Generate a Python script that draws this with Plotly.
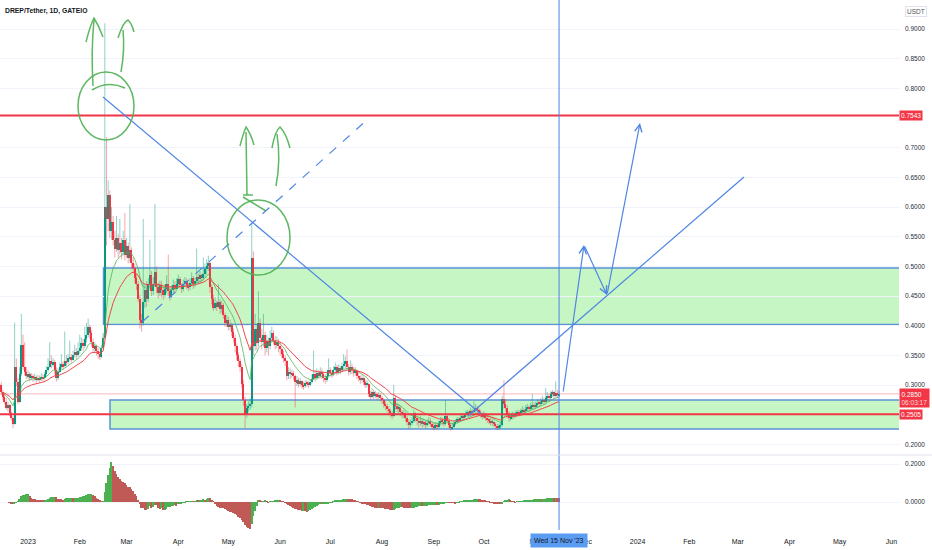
import numpy as np
import pandas as pd
import plotly.graph_objects as go

# ---------------- data (DREP/USDT daily) ----------------
start_date = "2022-12-16"
first_open = 0.300

closes = [
    # Dec 16-31 2022
    0.288,0.280,0.272,0.262,0.266,0.252,0.245,0.235,0.330,0.305,0.272,0.318,0.368,0.330,0.322,0.315,
    # Jan 2023
    0.318,0.312,0.315,0.311,0.313,0.309,0.312,0.310,0.314,0.311,0.318,0.325,0.330,0.340,0.335,0.338,0.325,0.312,0.322,0.330,0.335,0.332,0.340,0.338,0.345,0.348,0.343,0.350,0.355,0.350,0.358,
    # Feb
    0.362,0.370,0.365,0.378,0.385,0.398,0.388,0.372,0.362,0.365,0.358,0.352,0.348,0.362,0.380,0.600,0.580,0.620,0.560,0.575,0.545,0.530,0.548,0.528,0.540,0.525,0.545,0.520,
    # Mar
    0.535,0.515,0.528,0.505,0.498,0.480,0.470,0.445,0.410,0.405,0.440,0.460,0.445,0.470,0.485,0.458,0.470,0.490,0.465,0.455,0.468,0.460,0.452,0.462,0.470,0.458,0.448,0.460,0.468,0.462,0.470,
    # Apr
    0.478,0.468,0.462,0.470,0.476,0.468,0.465,0.472,0.480,0.470,0.475,0.482,0.478,0.485,0.480,0.488,0.495,0.500,0.505,0.465,0.445,0.430,0.438,0.432,0.440,0.428,0.435,0.418,0.405,0.410,
    # May
    0.398,0.402,0.390,0.380,0.365,0.350,0.340,0.330,0.302,0.275,0.250,0.262,0.265,0.268,0.515,0.365,0.395,0.370,0.405,0.380,0.372,0.385,0.362,0.375,0.365,0.380,0.388,0.375,0.368,0.372,0.365,
    # Jun
    0.360,0.352,0.345,0.340,0.315,0.322,0.318,0.320,0.315,0.305,0.308,0.302,0.306,0.300,0.298,0.304,0.302,0.300,0.305,0.310,0.318,0.312,0.320,0.316,0.322,0.318,0.312,0.308,0.315,0.325,
    # Jul
    0.320,0.318,0.325,0.330,0.322,0.328,0.325,0.332,0.336,0.340,0.330,0.322,0.330,0.326,0.320,0.324,0.316,0.312,0.308,0.312,0.305,0.300,0.302,0.285,0.280,0.288,0.282,0.285,0.280,0.283,0.278,
    # Aug
    0.274,0.268,0.265,0.260,0.256,0.252,0.248,0.278,0.265,0.260,0.262,0.255,0.250,0.252,0.245,0.238,0.232,0.236,0.240,0.252,0.245,0.240,0.236,0.240,0.235,0.238,0.232,0.236,0.240,0.235,0.230,
    # Sep
    0.228,0.232,0.230,0.236,0.240,0.238,0.235,0.248,0.240,0.232,0.227,0.230,0.234,0.238,0.242,0.240,0.245,0.248,0.246,0.250,0.254,0.252,0.256,0.254,0.258,0.262,0.258,0.255,0.250,0.247,
    # Oct
    0.250,0.245,0.242,0.240,0.236,0.238,0.234,0.231,0.228,0.230,0.232,0.276,0.268,0.262,0.250,0.244,0.246,0.250,0.248,0.252,0.254,0.252,0.256,0.258,0.256,0.260,0.262,0.260,0.264,0.266,0.263,
    # Nov 1-15
    0.267,0.270,0.268,0.272,0.275,0.272,0.278,0.282,0.278,0.284,0.288,0.282,0.287,0.283,0.285,
]

highs = [
    0.305,0.292,0.285,0.278,0.272,0.268,0.256,0.248,0.405,0.345,0.312,0.330,0.420,0.385,0.372,0.330,
    0.325,0.322,0.320,0.318,0.319,0.316,0.317,0.316,0.320,0.318,0.322,0.332,0.345,0.372,0.350,0.345,0.342,0.330,0.328,0.338,0.352,0.340,0.390,0.350,0.352,0.375,0.352,0.358,0.368,0.362,0.372,
    0.385,0.380,0.378,0.398,0.405,0.412,0.402,0.392,0.378,0.372,0.368,0.362,0.356,0.368,0.388,0.910,0.718,0.645,0.628,0.600,0.585,0.560,0.585,0.555,0.580,0.548,0.560,0.590,
    0.548,0.540,0.605,0.532,0.515,0.505,0.488,0.475,0.452,0.420,0.580,0.470,0.475,0.480,0.545,0.492,0.482,0.605,0.500,0.472,0.476,0.475,0.466,0.470,0.485,0.520,0.465,0.468,0.478,0.475,0.480,
    0.486,0.482,0.472,0.478,0.482,0.480,0.472,0.480,0.490,0.484,0.482,0.530,0.488,0.492,0.488,0.515,0.505,0.512,0.518,0.508,0.470,0.452,0.448,0.442,0.470,0.445,0.442,0.438,0.422,0.418,
    0.415,0.410,0.405,0.395,0.385,0.370,0.355,0.345,0.335,0.308,0.280,0.268,0.272,0.278,0.572,0.525,0.420,0.402,0.458,0.412,0.395,0.420,0.390,0.385,0.380,0.392,0.398,0.392,0.382,0.382,0.378,
    0.372,0.365,0.358,0.350,0.342,0.330,0.328,0.326,0.324,0.318,0.315,0.312,0.312,0.308,0.305,0.308,0.308,0.306,0.310,0.318,0.358,0.325,0.328,0.325,0.330,0.328,0.322,0.318,0.320,0.345,
    0.330,0.326,0.332,0.338,0.334,0.335,0.332,0.338,0.352,0.348,0.360,0.335,0.342,0.336,0.330,0.330,0.326,0.322,0.316,0.318,0.314,0.308,0.308,0.304,0.290,0.295,0.292,0.290,0.288,0.288,0.286,
    0.282,0.278,0.272,0.268,0.264,0.260,0.256,0.300,0.282,0.270,0.268,0.265,0.258,0.258,0.255,0.248,0.242,0.242,0.246,0.258,0.254,0.248,0.244,0.248,0.244,0.243,0.240,0.242,0.246,0.244,0.238,
    0.236,0.237,0.236,0.240,0.246,0.245,0.242,0.275,0.250,0.244,0.236,0.236,0.238,0.242,0.246,0.246,0.250,0.252,0.252,0.256,0.258,0.258,0.262,0.260,0.272,0.268,0.265,0.262,0.258,0.254,
    0.256,0.253,0.248,0.246,0.244,0.243,0.240,0.237,0.234,0.235,0.238,0.282,0.308,0.275,0.266,0.256,0.252,0.255,0.254,0.257,0.258,0.258,0.260,0.264,0.262,0.266,0.268,0.266,0.270,0.285,0.270,
    0.272,0.276,0.274,0.278,0.282,0.279,0.295,0.288,0.286,0.290,0.292,0.290,0.306,0.292,0.290,
]

lows = [
    0.283,0.275,0.268,0.258,0.255,0.248,0.240,0.227,0.233,0.298,0.268,0.270,0.315,0.325,0.316,0.310,
    0.310,0.306,0.308,0.305,0.307,0.304,0.306,0.305,0.307,0.306,0.309,0.315,0.322,0.328,0.328,0.330,0.318,0.306,0.308,0.320,0.327,0.326,0.330,0.332,0.334,0.340,0.338,0.341,0.346,0.344,0.347,
    0.352,0.358,0.358,0.362,0.372,0.380,0.378,0.365,0.355,0.356,0.350,0.344,0.342,0.345,0.360,0.378,0.535,0.560,0.548,0.545,0.535,0.515,0.525,0.515,0.520,0.512,0.518,0.510,
    0.515,0.505,0.508,0.495,0.488,0.472,0.460,0.440,0.395,0.390,0.400,0.430,0.432,0.440,0.462,0.450,0.452,0.465,0.455,0.446,0.450,0.448,0.444,0.448,0.455,0.450,0.442,0.446,0.455,0.455,0.458,
    0.465,0.462,0.455,0.458,0.465,0.462,0.458,0.460,0.466,0.462,0.465,0.470,0.470,0.472,0.472,0.476,0.480,0.486,0.492,0.455,0.436,0.425,0.428,0.425,0.430,0.420,0.422,0.412,0.398,0.398,
    0.392,0.392,0.382,0.372,0.355,0.342,0.330,0.322,0.295,0.265,0.226,0.245,0.255,0.258,0.262,0.350,0.358,0.360,0.365,0.372,0.360,0.365,0.350,0.355,0.350,0.360,0.372,0.368,0.360,0.362,0.355,
    0.350,0.345,0.338,0.332,0.308,0.310,0.310,0.312,0.308,0.262,0.298,0.296,0.298,0.294,0.292,0.295,0.297,0.295,0.298,0.302,0.308,0.306,0.308,0.310,0.312,0.310,0.305,0.302,0.305,0.312,
    0.314,0.312,0.315,0.320,0.316,0.318,0.318,0.322,0.326,0.328,0.325,0.316,0.318,0.318,0.314,0.316,0.310,0.306,0.302,0.304,0.300,0.295,0.296,0.280,0.275,0.278,0.276,0.278,0.275,0.276,0.272,
    0.268,0.262,0.258,0.254,0.250,0.246,0.242,0.246,0.258,0.254,0.252,0.248,0.244,0.244,0.238,0.232,0.226,0.228,0.232,0.236,0.238,0.232,0.228,0.232,0.228,0.230,0.226,0.229,0.232,0.230,0.225,
    0.223,0.225,0.224,0.226,0.232,0.232,0.230,0.232,0.235,0.228,0.223,0.224,0.228,0.232,0.235,0.236,0.238,0.240,0.241,0.244,0.246,0.246,0.248,0.248,0.250,0.252,0.252,0.249,0.245,0.242,
    0.243,0.240,0.236,0.234,0.232,0.231,0.229,0.226,0.224,0.224,0.226,0.230,0.260,0.255,0.244,0.238,0.240,0.242,0.243,0.245,0.248,0.247,0.249,0.252,0.251,0.252,0.255,0.255,0.257,0.258,0.258,
    0.260,0.262,0.262,0.265,0.268,0.266,0.270,0.273,0.272,0.276,0.280,0.277,0.279,0.278,0.280,
]

month_ticks = ["2023-01-01","2023-02-01","2023-03-01","2023-04-01","2023-05-01","2023-06-01",
               "2023-07-01","2023-08-01","2023-09-01","2023-10-01","2023-11-01","2023-12-01",
               "2024-01-01","2024-02-01","2024-03-01","2024-04-01","2024-05-01","2024-06-01"]
month_labels = ["2023","Feb","Mar","Apr","May","Jun","Jul","Aug","Sep","Oct","Nov","Dec",
                "2024","Feb","Mar","Apr","May","Jun"]
# 0.2500 and 0.7500 are hidden behind the red price tags in the reference
price_ticks = [0.20,0.30,0.35,0.40,0.45,0.50,0.55,0.60,0.65,0.70,0.80,0.85,0.90]
osc_ticks = [0.0, 0.2]

resistance = 0.7543
support = 0.2505
last_price = 0.2850
countdown = "06:03:17"
cursor_date = "2023-11-15"
cursor_label = "Wed 15 Nov '23"
upper_zone = (0.402, 0.4975)
lower_zone = (0.2258, 0.2747)
title_text = "DREP/Tether, 1D, GATEIO"

# ---------------- geometry helpers (for the hand drawings) ----------------
PLOT_W, PLOT_H, PANE_Y = 899, 530, 455
X_JAN1, PX_DAY = 28.0, 1.67
Y_REF, P_REF, PX_UNIT = 385.0, 0.30, 593.0


def px_date(px):
    t = pd.Timestamp("2023-01-01") + pd.Timedelta(days=(px - X_JAN1) / PX_DAY)
    return t.strftime("%Y-%m-%d %H:%M:%S")


def py_price(py):
    return P_REF + (Y_REF - py) / PX_UNIT


def pix_path(segments):
    parts = []
    for cmd, pts in segments:
        coords = " ".join(f"{x / PLOT_W:.5f} {(PLOT_H - y) / PLOT_H:.5f}" for x, y in pts)
        parts.append(f"{cmd} {coords}")
    return " ".join(parts)


# ---------------- derived series ----------------
n = min(len(closes), len(highs), len(lows))
dates = pd.date_range(start_date, periods=n, freq="D")
c = np.array(closes[:n])
o = np.array([first_open] + closes[:n - 1])
h = np.maximum.reduce([np.array(highs[:n]), o, c])
l = np.minimum.reduce([np.array(lows[:n]), o, c])
up = c >= o
dstr = [d.strftime("%Y-%m-%d") for d in dates]

UP_COL, DN_COL = "#089981", "#f23645"
UP_WICK, DN_WICK = "rgba(8,153,129,0.45)", "rgba(242,54,69,0.45)"

ema_fast = pd.Series(c).ewm(span=12, adjust=False).mean()
ema_slow = pd.Series(c).ewm(span=26, adjust=False).mean()
median = pd.Series((h + l) / 2)
ao = median.rolling(5, min_periods=1).mean() - median.rolling(34, min_periods=1).mean()
ao_col = ["#4caf50" if (i == 0 or ao[i] >= ao[i - 1]) else "#bf5a57" for i in range(n)]

fig = go.Figure()


def wick_trace(mask, color):
    xs, ys = [], []
    for i in range(n):
        if mask[i]:
            xs += [dstr[i], dstr[i], None]
            ys += [l[i], h[i], None]
    return go.Scatter(x=xs, y=ys, mode="lines", line=dict(color=color, width=1),
                      hoverinfo="skip", xaxis="x", yaxis="y")


fig.add_trace(wick_trace(up, UP_WICK))
fig.add_trace(wick_trace(~up, DN_WICK))
fig.add_trace(go.Bar(x=dstr, y=np.maximum(np.abs(c - o), 0.0012), base=np.minimum(o, c),
                     marker=dict(color=[UP_COL if u else DN_COL for u in up], line=dict(width=0)),
                     width=0.75 * 86400000, xaxis="x", yaxis="y"))
fig.add_trace(go.Scatter(x=dstr, y=ema_fast, mode="lines",
                         line=dict(color="rgba(76,175,80,0.75)", width=1), xaxis="x", yaxis="y"))
fig.add_trace(go.Scatter(x=dstr, y=ema_slow, mode="lines",
                         line=dict(color="#f0484a", width=1), xaxis="x", yaxis="y"))
fig.add_trace(go.Bar(x=dstr, y=ao, marker=dict(color=ao_col, line=dict(width=0)),
                     width=0.8 * 86400000, xaxis="x", yaxis="y2"))

BLUE = "#4f86e3"
ZONE_FILL = "#c6f6c4"
GREEN = "rgba(76,175,80,0.9)"
right_end = px_date(PLOT_W + 5)

shapes = [
    # green zones
    dict(type="rect", xref="x", yref="y", x0=px_date(103.5), x1=right_end,
         y0=upper_zone[0], y1=upper_zone[1], fillcolor=ZONE_FILL,
         line=dict(color="#5b93d8", width=1.5), layer="below"),
    dict(type="rect", xref="x", yref="y", x0=px_date(110), x1=right_end,
         y0=lower_zone[0], y1=lower_zone[1], fillcolor=ZONE_FILL,
         line=dict(color="#5b93d8", width=1.5), layer="below"),
    # price lines
    dict(type="line", xref="paper", yref="y", x0=0, x1=1, y0=last_price, y1=last_price,
         line=dict(color="rgba(242,54,69,0.35)", width=1)),
    dict(type="line", xref="paper", yref="y", x0=0, x1=1, y0=resistance, y1=resistance,
         line=dict(color="#f23645", width=2)),
    dict(type="line", xref="paper", yref="y", x0=0, x1=1, y0=support, y1=support,
         line=dict(color="#f23645", width=2)),
    # trend lines
    dict(type="line", xref="x", yref="y", x0=px_date(103), y0=py_price(97),
         x1=px_date(481), y1=py_price(414), line=dict(color=BLUE, width=1.2)),
    dict(type="line", xref="x", yref="y", x0=px_date(468), y0=py_price(416),
         x1=px_date(744), y1=py_price(177), line=dict(color=BLUE, width=1.2)),
    dict(type="line", xref="x", yref="y", x0=px_date(142), y0=py_price(322),
         x1=px_date(368), y1=py_price(119), line=dict(color=BLUE, width=1.2, dash="dash")),
    # cursor line
    dict(type="line", xref="x", yref="paper", x0=cursor_date, x1=cursor_date, y0=0, y1=1,
         line=dict(color="#4a84e6", width=1)),
    # pane separator
    dict(type="line", xref="paper", yref="paper", x0=0, x1=1 + 33 / PLOT_W,
         y0=(PLOT_H - PANE_Y) / PLOT_H, y1=(PLOT_H - PANE_Y) / PLOT_H,
         line=dict(color="#e0e3eb", width=1)),
    # hand drawn green circles
    dict(type="circle", xref="paper", yref="paper", x0=78 / PLOT_W, x1=134 / PLOT_W,
         y0=(PLOT_H - 140) / PLOT_H, y1=(PLOT_H - 72) / PLOT_H, line=dict(color=GREEN, width=1.5)),
    dict(type="circle", xref="paper", yref="paper", x0=227 / PLOT_W, x1=290 / PLOT_W,
         y0=(PLOT_H - 275) / PLOT_H, y1=(PLOT_H - 200) / PLOT_H, line=dict(color=GREEN, width=1.5)),
]

green_strokes = [
    [("M", [(92, 90)]), ("Q", [(108, 80), (125, 88)])],
    [("M", [(93, 86)]), ("Q", [(91, 50), (94, 20)])],
    [("M", [(86, 42)]), ("Q", [(90, 26), (94, 18)]), ("Q", [(99, 26), (103, 37)])],
    [("M", [(121, 72)]), ("Q", [(125, 50), (123, 30)])],
    [("M", [(118, 38)]), ("Q", [(123, 22), (128, 20)]), ("Q", [(132, 24), (134, 32)])],
    [("M", [(243, 197)]), ("L", [(266, 211)])],
    [("M", [(243, 195)]), ("L", [(253, 195)])],
    [("M", [(247, 195)]), ("L", [(246, 132)])],
    [("M", [(240, 146)]), ("Q", [(243, 134), (246, 127)]), ("Q", [(251, 134), (254, 145)])],
    [("M", [(276, 186)]), ("Q", [(281, 160), (277, 134)])],
    [("M", [(272, 148)]), ("Q", [(275, 131), (280, 127)]), ("Q", [(286, 133), (290, 148)])],
]
for seg in green_strokes:
    shapes.append(dict(type="path", xref="paper", yref="paper", path=pix_path(seg),
                       line=dict(color=GREEN, width=1.5)))

annotations = [
    dict(text=title_text, xref="paper", yref="paper", x=0, y=1, xanchor="left", yanchor="top",
         xshift=3, yshift=-5, showarrow=False,
         font=dict(size=6.8, color="#131722", family="Liberation Sans", weight=600)),
    dict(text="USDT", xref="paper", yref="paper", x=1, y=1, xanchor="left", yanchor="top",
         xshift=6, yshift=-6, showarrow=False, bordercolor="#e0e3eb", borderwidth=1, borderpad=1,
         font=dict(size=6.5, color="#50535e")),
    dict(text=f"{resistance:.4f}", xref="paper", yref="y", x=1, y=resistance, xanchor="left",
         yanchor="middle", showarrow=False, bgcolor="#f23645", borderpad=1,
         font=dict(size=6.5, color="white")),
    dict(text=f"{last_price:.4f}<br><span style='color:#ffd9dc'>{countdown}</span>", xref="paper",
         yref="y", x=1, y=last_price, xanchor="left", yanchor="middle", yshift=-4.5, align="left",
         showarrow=False, bgcolor="#f23645", borderpad=1.5, font=dict(size=6.5, color="white")),
    dict(text=f"{support:.4f}", xref="paper", yref="y", x=1, y=support, xanchor="left",
         yanchor="middle", showarrow=False, bgcolor="#f23645", borderpad=1,
         font=dict(size=6.5, color="white")),
    dict(text=cursor_label, xref="x", yref="paper", x=cursor_date, y=-10 / PLOT_H,
         xanchor="center", yanchor="middle", showarrow=False, bgcolor="#5b9cf3", borderpad=3,
         font=dict(size=7, color="#131722")),
]

# blue projection arrows (drawing), pixel vertices
arrow_pts = [(563, 393), (584, 245), (607, 295), (640, 123)]
for (tx, ty), (hx, hy) in zip(arrow_pts[:-1], arrow_pts[1:]):
    annotations.append(dict(x=px_date(hx), y=py_price(hy), xref="x", yref="y", text="",
                            showarrow=True, ax=tx - hx, ay=ty - hy, arrowhead=5, arrowsize=1.2,
                            arrowwidth=1.2, arrowcolor=BLUE, standoff=0, startstandoff=0))

axis_font = dict(size=6.5, color="#2a2e39", family="Liberation Sans")
fig.update_layout(
    width=932, height=550,
    margin=dict(l=0, r=33, t=0, b=20),
    paper_bgcolor="white", plot_bgcolor="white",
    showlegend=False, barmode="overlay", bargap=0,
    font=dict(family="Liberation Sans"),
    xaxis=dict(type="date", range=[px_date(0), px_date(PLOT_W)], anchor="y2",
               tickmode="array", tickvals=month_ticks, ticktext=month_labels,
               showgrid=False, zeroline=False, showline=False, ticks="",
               tickfont=dict(size=7, color="#131722", family="Liberation Sans"),
               ticklabelstandoff=6, fixedrange=True),
    yaxis=dict(domain=[(PLOT_H - PANE_Y) / PLOT_H, 1], range=[py_price(PANE_Y), py_price(0)],
               side="right", tickmode="array", tickvals=price_ticks, tickformat=".4f",
               showgrid=True, gridcolor="#f0f3fa", gridwidth=1, zeroline=False, showline=False,
               ticks="", tickfont=axis_font, ticklabelstandoff=5, fixedrange=True),
    yaxis2=dict(domain=[0, (PLOT_H - PANE_Y) / PLOT_H], range=[-28 / 190, 47 / 190],
                side="right", tickmode="array", tickvals=osc_ticks, tickformat=".4f",
                showgrid=True, gridcolor="#f0f3fa", zeroline=False, showline=False,
                ticks="", tickfont=axis_font, ticklabelstandoff=5, fixedrange=True),
    shapes=shapes,
    annotations=annotations,
)

fig.write_html("out.html", config={"displayModeBar": False},
               post_script="document.body.style.margin='0';document.body.style.overflow='hidden';")
